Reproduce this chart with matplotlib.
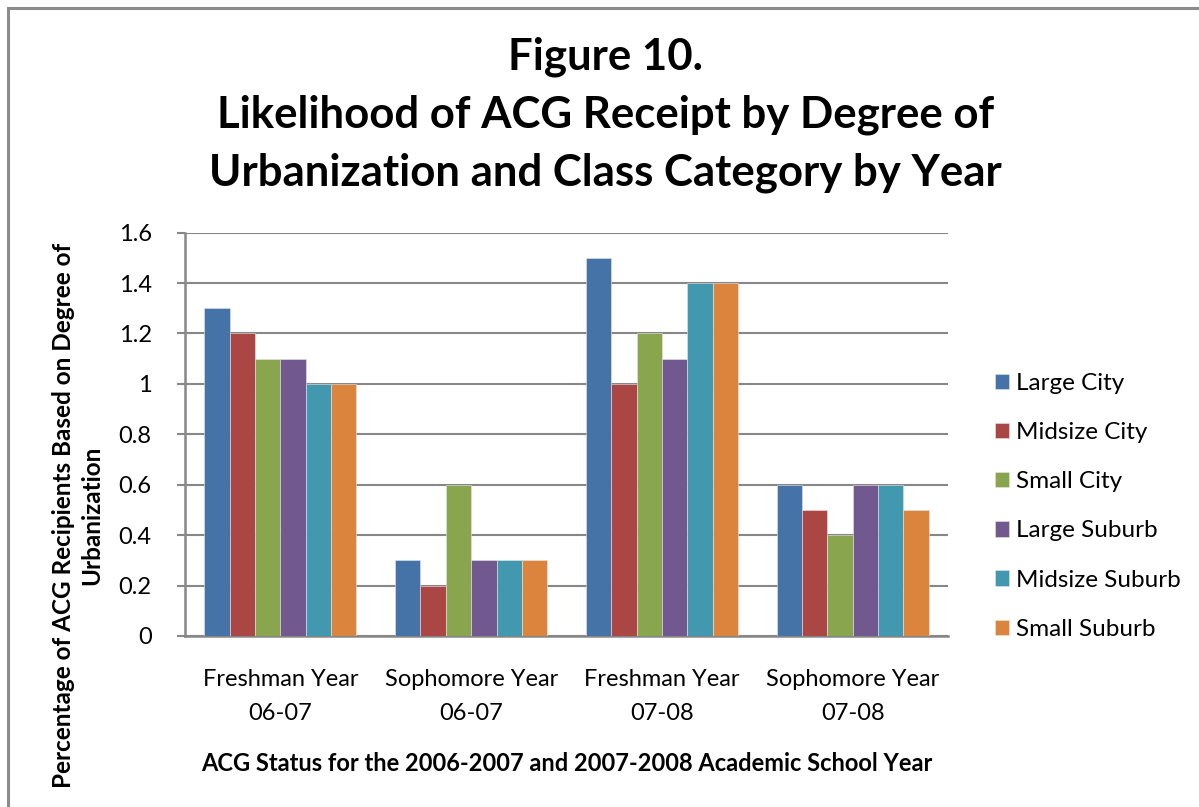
import numpy as np
import matplotlib
matplotlib.use("Agg")
import matplotlib.pyplot as plt
from matplotlib.patches import Rectangle

plt.rcParams['font.family'] = ['Lato', 'DejaVu Sans']

# ACG receipt by urbanization, per class/year group
groups = ["Freshman Year\n06-07", "Sophomore Year\n06-07",
          "Freshman Year\n07-08", "Sophomore Year\n07-08"]
series = ["Large City", "Midsize City", "Small City",
          "Large Suburb", "Midsize Suburb", "Small Suburb"]
large_city = [1.3, 0.3, 1.5, 0.6]
midsize_city = [1.2, 0.2, 1.0, 0.5]
small_city = [1.1, 0.6, 1.2, 0.4]
large_suburb = [1.1, 0.3, 1.1, 0.6]
midsize_suburb = [1.0, 0.3, 1.4, 0.6]
small_suburb = [1.0, 0.3, 1.4, 0.5]
values = [large_city, midsize_city, small_city,
          large_suburb, midsize_suburb, small_suburb]
colors = ["#4572A7", "#AA4643", "#89A54E", "#71588F", "#4198AF", "#DB843D"]
title_lines = ["Figure 10.", "Likelihood of ACG Receipt by Degree of",
               "Urbanization and Class Category by Year"]

fig = plt.figure(figsize=(11.99, 8.07), dpi=100)
ax = fig.add_axes([0.1543, 0.2119, 0.6364, 0.4998])

# outer chart frame (only top and left edges show)
fig.patches.append(Rectangle((0.0065, -0.01), 1.2, 1.0, transform=fig.transFigure,
                             fill=False, edgecolor="#8c8c8c", linewidth=2.2))

x = np.arange(len(groups))
width = 0.133
for i, (name, vals, c) in enumerate(zip(series, values, colors)):
    ax.bar(x + (i - 2.5) * width, vals, width, color=c, label=name,
           edgecolor="#e6e6e6", linewidth=0.4, zorder=3)

ax.set_xlim(-0.5, len(groups) - 0.5)
ax.set_ylim(0, 1.6)
ax.set_yticks(np.arange(0, 1.61, 0.2))
ax.set_yticklabels(["0", "0.2", "0.4", "0.6", "0.8", "1", "1.2", "1.4", "1.6"])
ax.grid(axis="y", color="#878787", linewidth=1.5, zorder=0)
ax.set_xticks(x)
ax.set_xticklabels(groups, fontsize=17, linespacing=1.75)
ax.tick_params(axis="x", length=0, pad=24)
ax.tick_params(axis="y", labelsize=17, length=6, width=1.5, color="#878787", pad=18)
for s in ["top", "right"]:
    ax.spines[s].set_visible(False)
for s in ["left", "bottom"]:
    ax.spines[s].set_color("#878787")
    ax.spines[s].set_linewidth(1.8)

for ty, line in zip([0.9294, 0.8575, 0.7856], title_lines):
    fig.text(0.505, ty, line, ha="center", va="center", fontsize=31.5, fontweight="bold")

fig.text(0.473, 0.054, "ACG Status for the 2006-2007 and 2007-2008 Academic School Year",
         ha="center", va="center", fontsize=17, fontweight="bold")
fig.text(0.0646, 0.3618, "Percentage of ACG Recipients Based on Degree of\nUrbanization",
         ha="center", va="center", rotation=90, fontsize=17.5, fontweight="bold",
         linespacing=1.25)

ax.legend(loc="center left", bbox_to_anchor=(0.8115, 0.3725), bbox_transform=fig.transFigure,
          frameon=False, fontsize=17.5, handlelength=0.6, handleheight=0.6,
          handletextpad=0.25, labelspacing=1.16)

fig.savefig("out.png", dpi=100)
